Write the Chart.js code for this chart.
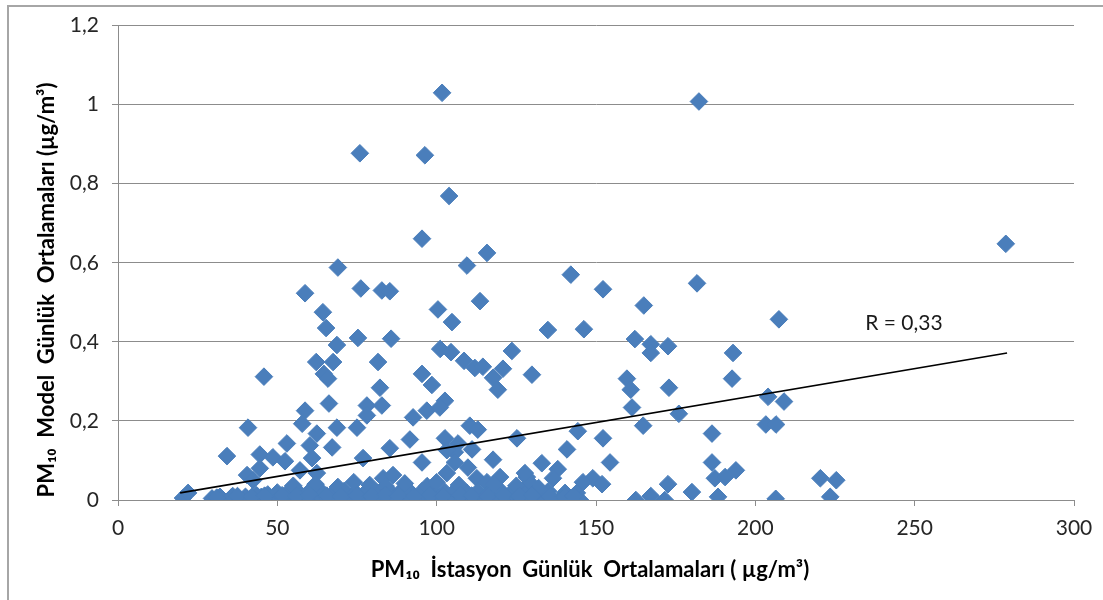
<!DOCTYPE html>
<html>
<head>
<meta charset="utf-8">
<script src="https://cdn.jsdelivr.net/npm/chart.js@4"></script>
<style>
  html, body { margin: 0; padding: 0; background: #fff; }
  #wrap { width: 1103px; height: 600px; }
</style>
</head>
<body>
<div id="wrap"><canvas id="c" width="1103" height="600"></canvas></div>
<script>
// ---------- DATA ----------
const xTickLabels = ['0', '50', '100', '150', '200', '250', '300'];
const yTickLabels = ['0', '0,2', '0,4', '0,6', '0,8', '1', '1,2'];

const xTitle = 'PM\u2081\u2080  İstasyon  Günlük  Ortalamaları ( µg/m³)';
const yTitle = 'PM\u2081\u2080  Model  Günlük  Ortalamaları (µg/m³)';
const rLabel = 'R = 0,33';
const rLabelX = 234.5;
const rLabelY = 0.447;

// station daily means (x) and model daily means (y), upper scatter
const stationUpper = [101.7,182.3,75.9,96.3,103.9,278.6,95.4,115.8,69.0,109.5,142.1,181.7,58.7,76.2,82.8,85.3,152.2,113.6,165.0,100.4,
  64.3,104.8,65.3,207.4,134.9,146.2,75.3,85.7,162.2,167.2,167.2,172.6,193.0,68.7,101.1,104.5,123.6,62.2,67.5,81.6,
  108.6,112.0,114.5,120.8,45.8,64.6,65.9,95.4,98.5,82.2,117.7,119.2,129.9,159.7,160.9,172.9,192.7,204.0,209.0,66.2,
  58.7,78.1,82.8,57.8,78.1,40.8,68.7,75.0,53.0,62.4,60.2,67.2,85.3,34.2,44.5,48.6,52.4,60.9,76.9,40.5,
  44.5,42.4,57.1,102.6,92.6,96.9,101.0,110.4,112.9,91.6,102.6,106.7,111.1,105.7,125.2,140.9,144.3,152.2,95.4,117.7,
  105.7,133.0,138.0,154.4,103.2,109.8,112.6,115.8,128.3,129.3,149.0,151.9,145.9,103.2,119.9,127.7,136.5,83.2,86.3,62.4,
  186.4,186.4,187.3,190.5,193.9,220.4,225.4,223.5,206.4,188.3,180.1,172.6,167.2,162.5,171.6,140.3,144.0,164.8,176.0,203.3,
  206.5,161.3,20.4,22.0,32.0];
const modelUpper = [1.03,1.008,0.877,0.872,0.769,0.648,0.661,0.625,0.588,0.593,0.570,0.548,0.523,0.535,0.530,0.528,0.533,0.503,0.492,0.482,
  0.475,0.450,0.435,0.457,0.430,0.432,0.410,0.408,0.407,0.394,0.372,0.389,0.372,0.392,0.382,0.374,0.377,0.349,0.349,0.349,
  0.352,0.334,0.337,0.332,0.312,0.319,0.307,0.319,0.291,0.284,0.309,0.279,0.317,0.307,0.279,0.284,0.307,0.261,0.249,0.244,
  0.226,0.239,0.239,0.193,0.214,0.183,0.183,0.183,0.143,0.168,0.138,0.133,0.131,0.111,0.115,0.108,0.098,0.106,0.106,0.063,
  0.080,0.050,0.075,0.251,0.209,0.226,0.234,0.188,0.178,0.153,0.156,0.143,0.128,0.121,0.156,0.128,0.174,0.156,0.095,0.102,
  0.095,0.093,0.078,0.095,0.068,0.082,0.055,0.045,0.058,0.043,0.055,0.040,0.045,0.126,0.058,0.068,0.055,0.055,0.063,0.068,
  0.168,0.095,0.055,0.058,0.075,0.055,0.050,0.008,0.003,0.008,0.020,0.040,0.010,0.000,0.000,0.018,0.018,0.188,0.218,0.191,
  0.191,0.234,0.005,0.018,0.008];

// dense cluster of low model values
const stationLow = [29.5,33,35.5,38,40.5,43,45,47.5,50,52,54.5,57,59,61.5,64,66,68.5,71,73,75.5,
  78,80,82.5,85,87,89.5,92,94,96.5,99,101,103.5,106,108,110.5,113,115,117.5,120,122,
  124.5,127,129,131.5,134,136.5,139,141.5,145,
  36,40,43.5,47,50,53.5,57,60.5,64,67.5,71,74.5,78,81.5,85,88.5,92,95.5,99,102.5,
  106,109.5,113,116.5,120,123.5,127,131,135,
  55,62,69,74,79,90,97,100,107,118,125,132,84,
  31,37.5,42,46,51.5,56,60,65.5,70,75,79.5,84,88,93,98,102,107.5,111,116,121,126,130,135.5,140,143];
const modelLow = [0.004,0.0,0.006,0.0,0.003,0.0,0.008,0.0,0.004,0.0,0.006,0.0,0.003,0.0,0.007,0.0,0.004,0.0,0.006,0.0,
  0.003,0.0,0.007,0.0,0.004,0.0,0.006,0.0,0.003,0.0,0.008,0.0,0.004,0.0,0.006,0.0,0.003,0.0,0.007,0.0,
  0.004,0.0,0.006,0.0,0.005,0.0,0.004,0.0,0.0,
  0.010,0.008,0.012,0.014,0.019,0.021,0.017,0.025,0.020,0.016,0.023,0.019,0.022,0.017,0.024,0.020,0.018,0.023,0.016,0.021,
  0.025,0.018,0.022,0.017,0.024,0.019,0.021,0.016,0.022,
  0.036,0.040,0.033,0.045,0.038,0.042,0.035,0.045,0.038,0.040,0.036,0.030,0.035,
  0.006,0.010,0.008,0.011,0.012,0.010,0.013,0.011,0.009,0.012,0.010,0.013,0.011,0.009,0.012,0.010,0.013,0.011,0.009,0.012,0.010,0.012,0.009,0.008,0.010];

// linear trend line end points
const trendX = [19.5, 279];
const trendY = [0.018, 0.372];

// ---------- BUILD ----------
const stationAll = stationUpper.concat(stationLow);
const modelAll = modelUpper.concat(modelLow);
const scatterPts = stationAll.map((v, i) => ({ x: v, y: modelAll[i] }));
const trendPts = trendX.map((v, i) => ({ x: v, y: trendY[i] }));

const FONT = 'Lato, "Open Sans", sans-serif';
const GRID = '#8c8c8c';

const decor = {
  id: 'decor',
  beforeDraw(chart) {
    const c = chart.ctx;
    c.save();
    c.fillStyle = '#ffffff';
    c.fillRect(0, 0, chart.width, chart.height);
    c.strokeStyle = '#a6a6a6';
    c.lineWidth = 2;
    c.beginPath();
    c.moveTo(8, 600);
    c.lineTo(8, 6);
    c.lineTo(1103, 6);
    c.stroke();
    c.restore();
  },
  afterDraw(chart) {
    const c = chart.ctx;
    const sx = chart.scales.x, sy = chart.scales.y;
    c.save();
    c.fillStyle = '#1a1a1a';
    c.font = '21px ' + FONT;
    c.textAlign = 'left';
    c.textBaseline = 'middle';
    c.fillText(rLabel, sx.getPixelForValue(rLabelX), sy.getPixelForValue(rLabelY));
    c.fillStyle = '#000';
    c.font = 'bold 22px ' + FONT;
    c.textAlign = 'center';
    c.textBaseline = 'middle';
    c.fillText(xTitle, 590, 570);
    c.translate(47, 290);
    c.rotate(-Math.PI / 2);
    c.fillText(yTitle, 0, 0);
    c.restore();
  }
};

new Chart(document.getElementById('c'), {
  type: 'scatter',
  data: {
    datasets: [
      {
        type: 'line',
        data: trendPts,
        borderColor: '#000000',
        borderWidth: 1.6,
        pointRadius: 0,
        fill: false,
        order: 0
      },
      {
        data: scatterPts,
        pointStyle: 'rectRot',
        pointRadius: 8.8,
        pointHoverRadius: 8.8,
        backgroundColor: '#4A7EBB',
        borderColor: '#4A7EBB',
        borderWidth: 1,
        order: 1
      }
    ]
  },
  options: {
    responsive: false,
    animation: false,
    events: [],
    layout: { padding: { left: 0, top: 22, right: 29, bottom: 0 } },
    plugins: { legend: { display: false }, tooltip: { enabled: false } },
    scales: {
      x: {
        type: 'linear',
        min: 0, max: 300,
        afterFit(s) { s.height = 100; },
        ticks: {
          stepSize: 50,
          padding: 10,
          color: '#262626',
          font: { family: FONT, size: 21 },
          callback: (v, i) => xTickLabels[i]
        },
        grid: { drawOnChartArea: false, drawTicks: true, tickLength: 6, color: GRID, lineWidth: 1 },
        border: { display: true, color: GRID, width: 1 }
      },
      y: {
        type: 'linear',
        min: 0, max: 1.2,
        afterFit(s) { s.width = 118; },
        ticks: {
          stepSize: 0.2,
          padding: 13,
          color: '#262626',
          font: { family: FONT, size: 21 },
          callback: (v, i) => yTickLabels[i]
        },
        grid: { drawOnChartArea: true, drawTicks: true, tickLength: 6, color: GRID, lineWidth: 1 },
        border: { display: true, color: GRID, width: 1 }
      }
    }
  },
  plugins: [decor]
});
</script>
</body>
</html>
